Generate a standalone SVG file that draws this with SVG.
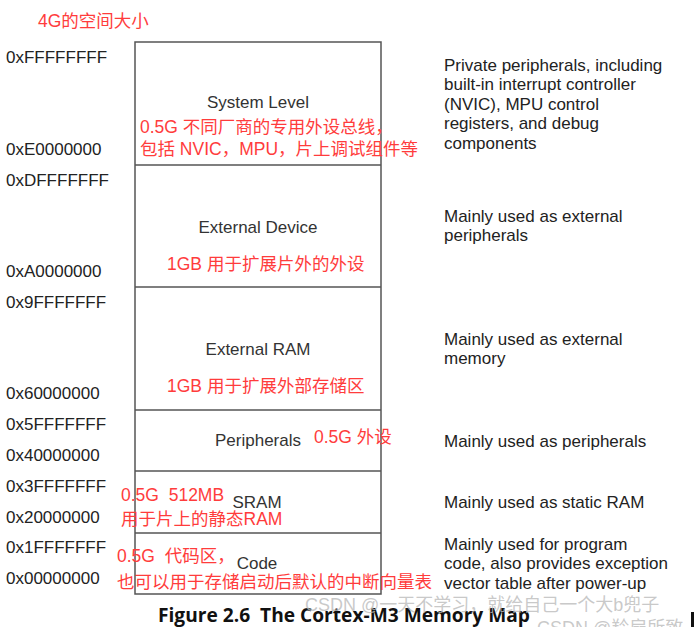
<svg xmlns="http://www.w3.org/2000/svg" width="700" height="627" viewBox="0 0 700 627">
<style>
text{white-space:pre}
.addr{font-family:"Liberation Sans",Arial,sans-serif;font-size:17px;fill:#222}
.lbl{font-family:"Liberation Sans",Arial,sans-serif;font-size:17px;fill:#333;text-anchor:middle}
.desc{font-family:"Liberation Sans",Arial,sans-serif;font-size:17px;fill:#222}
.red{font-family:"Liberation Sans","Noto Sans CJK SC",sans-serif;font-size:17.5px;fill:#ff3c3c}
.box{fill:#fff;stroke:#555;stroke-width:1.5}
.div{stroke:#555;stroke-width:1.5}
.cap{font-family:"Open Sans","Liberation Sans",sans-serif;font-size:19px;font-weight:bold;fill:#111}
.wm{font-family:"Liberation Sans","Noto Sans CJK SC",sans-serif;font-size:18px;fill:#bbb;fill-opacity:0.8}
</style>
<rect width="700" height="627" fill="#fff"/>
<text class="red" x="38" y="27">4G的空间大小</text>
<g id="memmap">
<rect class="box" x="135" y="42" width="246" height="552"/>
</g>
<g id="connectors">
<line class="div" x1="135" y1="165" x2="381" y2="165"/>
<line class="div" x1="135" y1="287" x2="381" y2="287"/>
<line class="div" x1="135" y1="410" x2="381" y2="410"/>
<line class="div" x1="135" y1="471" x2="381" y2="471"/>
<line class="div" x1="135" y1="533" x2="381" y2="533"/>
</g>
<g id="addresses">
<text class="addr" x="6" y="63">0xFFFFFFFF</text>
<text class="addr" x="6" y="155">0xE0000000</text>
<text class="addr" x="6" y="186">0xDFFFFFFF</text>
<text class="addr" x="6" y="277">0xA0000000</text>
<text class="addr" x="6" y="308">0x9FFFFFFF</text>
<text class="addr" x="6" y="399">0x60000000</text>
<text class="addr" x="6" y="430">0x5FFFFFFF</text>
<text class="addr" x="6" y="461">0x40000000</text>
<text class="addr" x="6" y="492">0x3FFFFFFF</text>
<text class="addr" x="6" y="523">0x20000000</text>
<text class="addr" x="6" y="553">0x1FFFFFFF</text>
<text class="addr" x="6" y="584">0x00000000</text>
</g>
<g id="system-level">
<text class="lbl" x="258" y="108">System Level</text>
<text class="red" x="140" y="133">0.5G 不同厂商的专用外设总线，</text>
<text class="red" x="140" y="155">包括 NVIC，MPU，片上调试组件等</text>
</g>
<g id="external-device">
<text class="lbl" x="258" y="233">External Device</text>
<text class="red" x="167" y="270">1GB 用于扩展片外的外设</text>
</g>
<g id="external-ram">
<text class="lbl" x="258" y="355">External RAM</text>
<text class="red" x="167" y="392">1GB 用于扩展外部存储区</text>
</g>
<g id="peripherals">
<text class="lbl" x="258" y="446">Peripherals</text>
<text class="red" x="314" y="443">0.5G 外设</text>
</g>
<g id="sram">
<text class="lbl" x="257" y="508">SRAM</text>
<text class="red" x="121" y="501">0.5G  512MB</text>
<text class="red" x="121" y="525">用于片上的静态RAM</text>
</g>
<g id="code">
<text class="lbl" x="257" y="569">Code</text>
<text class="red" x="117" y="562">0.5G  代码区，</text>
<text class="red" x="117" y="588">也可以用于存储启动后默认的中断向量表</text>
</g>
<g id="descriptions">
<text class="desc" x="444" y="71">Private peripherals, including</text>
<text class="desc" x="444" y="90">built-in interrupt controller</text>
<text class="desc" x="444" y="110">(NVIC), MPU control</text>
<text class="desc" x="444" y="129">registers, and debug</text>
<text class="desc" x="444" y="149">components</text>
<text class="desc" x="444" y="222">Mainly used as external</text>
<text class="desc" x="444" y="241">peripherals</text>
<text class="desc" x="444" y="345">Mainly used as external</text>
<text class="desc" x="444" y="364">memory</text>
<text class="desc" x="444" y="447">Mainly used as peripherals</text>
<text class="desc" x="444" y="508">Mainly used as static RAM</text>
<text class="desc" x="444" y="550">Mainly used for program</text>
<text class="desc" x="444" y="569">code, also provides exception</text>
<text class="desc" x="444" y="589">vector table after power-up</text>
</g>
<text class="cap" x="158" y="622" textLength="372" lengthAdjust="spacingAndGlyphs">Figure 2.6  The Cortex-M3 Memory Map</text>
<text class="wm" x="305" y="611">CSDN @一天不学习，就给自己一个大b兜子</text>
<text class="wm" x="537" y="634">CSDN @羚扇所致</text>
<rect x="691" y="612" width="3" height="15" fill="#111"/>
</svg>
